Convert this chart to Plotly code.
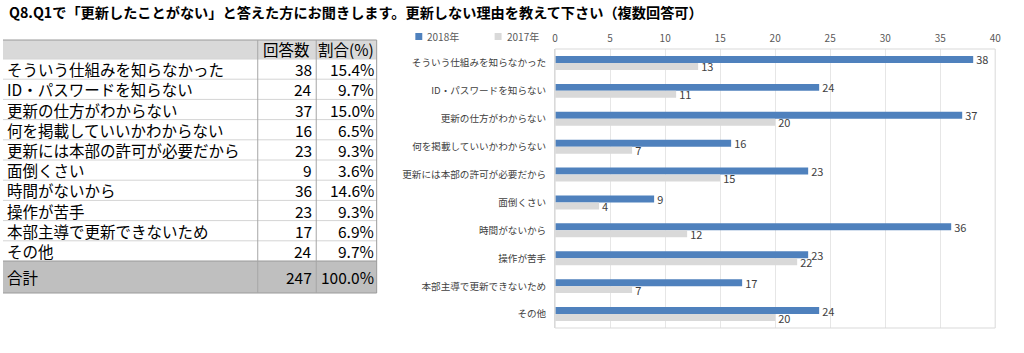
import plotly.graph_objects as go

W, H = 1024, 353

title = "Q8.Q1で「更新したことがない」と答えた方にお聞きします。更新しない理由を教えて下さい（複数回答可）"
categories = ["そういう仕組みを知らなかった", "ID・パスワードを知らない", "更新の仕方がわからない",
              "何を掲載していいかわからない", "更新には本部の許可が必要だから", "面倒くさい",
              "時間がないから", "操作が苦手", "本部主導で更新できないため", "その他"]
v2018 = [38, 24, 37, 16, 23, 9, 36, 23, 17, 24]
v2017 = [13, 11, 20, 7, 15, 4, 12, 22, 7, 20]
pct = ["15.4%", "9.7%", "15.0%", "6.5%", "9.3%", "3.6%", "14.6%", "9.3%", "6.9%", "9.7%"]
header = ["回答数", "割合(%)"]
total_label = "合計"
total_count = 247
total_pct = "100.0%"
series_names = ["2018年", "2017年"]
series_colors = ["#4f81bd", "#d9d9d9"]
x_ticks = [0, 5, 10, 15, 20, 25, 30, 35, 40]

FONT = "Noto Sans CJK JP"


def px(x):
    return x / W


def py(y):
    return 1 - y / H


fig = go.Figure()
for name, vals, col in zip(series_names, [v2018, v2017], series_colors):
    fig.add_trace(go.Bar(y=categories, x=vals, name=name, orientation="h",
                         marker=dict(color=col, line=dict(width=0)),
                         text=vals, textposition="outside", cliponaxis=False, constraintext="none",
                         textfont=dict(size=11, color="#404040", family=FONT)))

shapes = []
annots = []

# title
annots.append(dict(x=px(4), y=py(12), xref="paper", yref="paper", text="<b>" + title + "</b>",
                   showarrow=False, xanchor="left", yanchor="middle",
                   font=dict(size=14.2, color="#000000", family=FONT)))

# legend (manual)
leg_x = [416, 496]
for lx, name, col in zip(leg_x, series_names, series_colors):
    shapes.append(dict(type="rect", xref="paper", yref="paper", x0=px(lx), x1=px(lx + 7),
                       y0=py(33), y1=py(40), fillcolor=col, line=dict(width=0)))
    annots.append(dict(x=px(lx + 10), y=py(36), xref="paper", yref="paper", text=name, showarrow=False,
                       xanchor="left", yanchor="middle", font=dict(size=10, color="#595959", family=FONT)))

# table geometry
tx0, c1, c2, tx1 = 0, 257, 316, 377
hy0, hy1 = 40, 59
row_h = (261 - 59) / len(categories)
ty0, ty1 = 261, 293

shapes.append(dict(type="rect", xref="paper", yref="paper", x0=px(tx0), x1=px(tx1), y0=py(hy0), y1=py(hy1),
                   fillcolor="#d9d9d9", line=dict(width=0), layer="below"))
shapes.append(dict(type="rect", xref="paper", yref="paper", x0=px(tx0), x1=px(tx1), y0=py(ty0), y1=py(ty1),
                   fillcolor="#bfbfbf", line=dict(width=0), layer="below"))
for i in range(len(categories)):
    yy = hy1 + row_h * i
    shapes.append(dict(type="line", xref="paper", yref="paper", x0=px(tx0), x1=px(tx1), y0=py(yy), y1=py(yy),
                       line=dict(color="#d4d4d4", width=1)))
for (xa, ya, xb, yb) in [(tx0, hy0, tx1, hy0), (tx0, ty1, tx1, ty1), (tx1, hy0, tx1, ty1),
                         (tx0, ty0, tx1, ty0)]:
    shapes.append(dict(type="line", xref="paper", yref="paper", x0=px(xa), x1=px(xb), y0=py(ya), y1=py(yb),
                       line=dict(color="#9a9a9a", width=1)))
for xc in [c1, c2]:
    shapes.append(dict(type="line", xref="paper", yref="paper", x0=px(xc), x1=px(xc), y0=py(hy0), y1=py(ty1),
                       line=dict(color="#a6a6a6", width=1)))

tfont = dict(size=15.5, color="#000000", family=FONT)


def cell(x, y, text, anchor):
    annots.append(dict(x=px(x), y=py(y), xref="paper", yref="paper", text=text, showarrow=False,
                       xanchor=anchor, yanchor="middle", font=tfont, borderpad=0))


cell((c1 + c2) / 2, (hy0 + hy1) / 2, header[0], "center")
cell((c2 + tx1) / 2, (hy0 + hy1) / 2, header[1], "center")
for i, (c, n, p) in enumerate(zip(categories, v2018, pct)):
    yc = hy1 + row_h * (i + 0.5)
    cell(3, yc, c, "left")
    cell(c2 - 3, yc, str(n), "right")
    cell(tx1 - 2, yc, p, "right")
yc = (ty0 + ty1) / 2
cell(3, yc, total_label, "left")
cell(c2 - 3, yc, str(total_count), "right")
cell(tx1 - 2, yc, total_pct, "right")

# plot area border
pa_x0, pa_x1, pa_y0, pa_y1 = 557, 1001, 49, 328
shapes.append(dict(type="rect", xref="paper", yref="paper", x0=px(pa_x0), x1=px(pa_x1), y0=py(pa_y0), y1=py(pa_y1),
                   line=dict(color="#d9d9d9", width=1), fillcolor="rgba(0,0,0,0)"))

fig.update_layout(
    width=W, height=H,
    margin=dict(l=0, r=0, t=0, b=0),
    paper_bgcolor="white", plot_bgcolor="white",
    barmode="group", bargap=0.5, bargroupgap=0,
    font=dict(family=FONT, color="#404040"),
    showlegend=False,
    xaxis=dict(domain=[px(pa_x0), px(pa_x1)], range=[0, 40], side="top", tickvals=x_ticks,
               showgrid=True, gridcolor="#e6e6e6", gridwidth=1, zeroline=False, showline=False,
               tickfont=dict(size=10, color="#595959", family=FONT), ticks="", ticklabelstandoff=4),
    yaxis=dict(domain=[py(pa_y1), py(pa_y0)], autorange="reversed", showgrid=False, zeroline=False,
               showline=True, linecolor="#d9d9d9", ticks="",
               tickfont=dict(size=9.6, color="#404040", family=FONT), ticklabelstandoff=6),
    shapes=shapes,
    annotations=annots,
)

fig.write_html("out.html")
